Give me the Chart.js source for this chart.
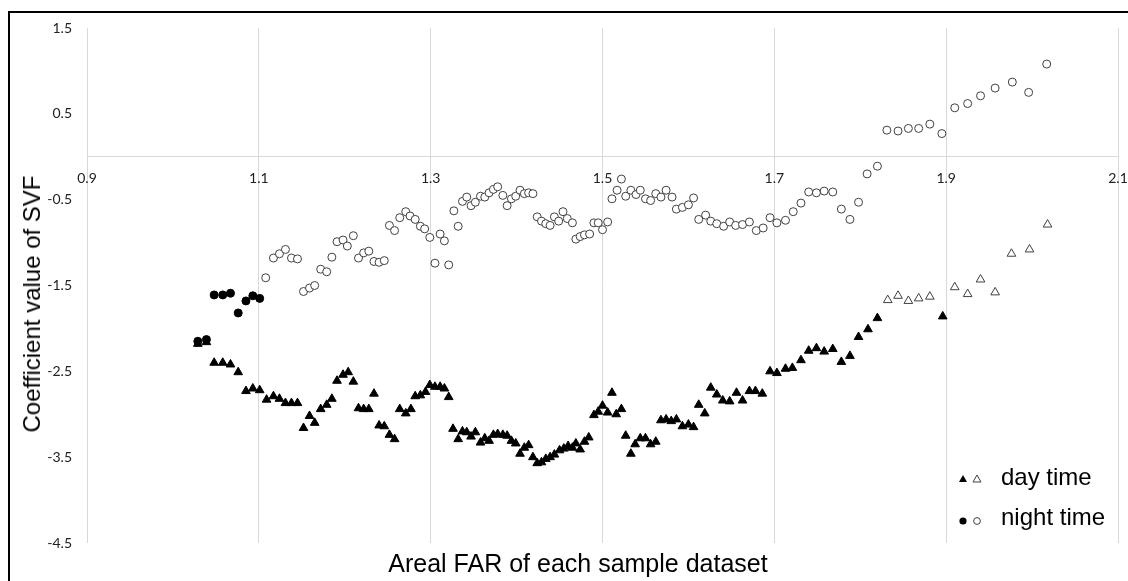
<!DOCTYPE html>
<html>
<head>
<meta charset="utf-8">
<script src="https://cdn.jsdelivr.net/npm/chart.js@4.4.1/dist/chart.umd.min.js"></script>
<style>
  html, body { margin: 0; padding: 0; background: #fff; }
  #wrap { position: relative; width: 1128px; height: 581px; overflow: hidden; }
  #frame { position: absolute; left: 8px; top: 11px; width: 1200px; height: 700px; border: 2px solid #000; box-sizing: border-box; }
  #chart { position: absolute; left: 0; top: 0; }
  .title { position: absolute; font-family: "Liberation Sans", Arial, sans-serif; font-size: 24px; color: #000; white-space: nowrap; }
  #yTitle { left: 32px; top: 304px; transform: translate(-50%, -50%) rotate(-90deg); }
  #xTitle { left: 578px; top: 563px; transform: translate(-50%, -50%); font-size: 25px; }
  .legend-row { position: absolute; left: 955px; height: 30px; }
  .legend-row svg { position: absolute; left: 0; top: 8px; }
  .legend-row span { position: absolute; left: 46px; top: 0; font-family: "Liberation Sans", Arial, sans-serif; font-size: 24px; line-height: 30px; white-space: nowrap; }
</style>
</head>
<body>
<div id="wrap">
  <div id="frame"></div>
  <canvas id="chart" width="1128" height="581"></canvas>
  <div class="title" id="yTitle">Coefficient value of SVF</div>
  <div class="title" id="xTitle">Areal FAR of each sample dataset</div>
  <div class="legend-row" style="top:462px">
    <svg width="30" height="16"><polygon points="8,5 12,12 4,12" fill="#000"/><polygon points="22,5 26,12 18,12" fill="#fff" stroke="#404040" stroke-width="1"/></svg>
    <span>day time</span>
  </div>
  <div class="legend-row" style="top:502px">
    <svg width="30" height="16"><circle cx="8" cy="11" r="3.6" fill="#000"/><circle cx="22" cy="11" r="3.4" fill="#fff" stroke="#404040" stroke-width="1"/></svg>
    <span>night time</span>
  </div>
</div>
<script>
// axis ticks
const xTicks = [0.9, 1.1, 1.3, 1.5, 1.7, 1.9, 2.1]
const yTicks = [-4.5, -3.5, -2.5, -1.5, -0.5, 0.5, 1.5]

// day time, filled triangles
const dayFilledX = [1.029, 1.039, 1.048, 1.058, 1.067, 1.076, 1.085, 1.093, 1.101, 1.109, 1.117, 1.124, 1.131, 1.138, 1.145,
  1.152, 1.159, 1.165, 1.172, 1.179, 1.185, 1.191, 1.198, 1.204, 1.210, 1.216, 1.222, 1.228, 1.234, 1.240, 1.246, 1.252, 1.258,
  1.264, 1.271, 1.277, 1.282, 1.288, 1.294, 1.299, 1.305, 1.311, 1.316, 1.321, 1.326, 1.332, 1.337, 1.342, 1.347, 1.352, 1.358,
  1.363, 1.368, 1.373, 1.378, 1.384, 1.389, 1.394, 1.399, 1.404, 1.409, 1.414, 1.419, 1.424, 1.429, 1.434, 1.439, 1.444, 1.450,
  1.455, 1.460, 1.465, 1.469, 1.474, 1.479, 1.484, 1.490, 1.495, 1.500, 1.506, 1.511, 1.516, 1.522, 1.527, 1.533, 1.538, 1.544,
  1.550, 1.556, 1.562, 1.568, 1.574, 1.580, 1.586, 1.593, 1.600, 1.606, 1.612, 1.619, 1.626, 1.633, 1.640, 1.648, 1.656, 1.663,
  1.671, 1.678, 1.686, 1.695, 1.703, 1.713, 1.721, 1.731, 1.740, 1.749, 1.758, 1.768, 1.778, 1.788, 1.798, 1.809, 1.820, 1.896]
const dayFilledY = [-2.18, -2.16, -2.40, -2.40, -2.42, -2.51, -2.73, -2.70, -2.72, -2.83, -2.79, -2.82, -2.87, -2.87, -2.87,
  -3.16, -3.02, -3.10, -2.94, -2.89, -2.82, -2.61, -2.54, -2.51, -2.62, -2.93, -2.94, -2.94, -2.76, -3.13, -3.14, -3.24, -3.29,
  -2.94, -2.99, -2.94, -2.79, -2.78, -2.74, -2.66, -2.68, -2.68, -2.70, -2.80, -3.17, -3.29, -3.20, -3.21, -3.26, -3.21, -3.33,
  -3.28, -3.31, -3.24, -3.23, -3.24, -3.25, -3.31, -3.34, -3.46, -3.39, -3.36, -3.50, -3.57, -3.56, -3.52, -3.50, -3.47, -3.42,
  -3.40, -3.37, -3.39, -3.34, -3.41, -3.32, -3.27, -3.01, -2.97, -2.90, -2.98, -2.75, -3.00, -2.94, -3.25, -3.46, -3.35, -3.28,
  -3.28, -3.35, -3.32, -3.07, -3.06, -3.08, -3.06, -3.14, -3.12, -3.15, -2.89, -2.99, -2.69, -2.77, -2.84, -2.85, -2.75, -2.84,
  -2.73, -2.73, -2.76, -2.50, -2.52, -2.47, -2.46, -2.37, -2.26, -2.23, -2.27, -2.24, -2.39, -2.32, -2.10, -2.01, -1.88, -1.86]

// day time, open triangles
const dayOpenX = [1.832, 1.844, 1.856, 1.868, 1.881, 1.910, 1.925, 1.940, 1.957, 1.976, 1.997, 2.018]
const dayOpenY = [-1.67, -1.62, -1.68, -1.65, -1.63, -1.52, -1.60, -1.43, -1.58, -1.13, -1.08, -0.79]

// night time, filled circles
const nightFilledX = [1.029, 1.039, 1.048, 1.058, 1.067, 1.076, 1.085, 1.093, 1.101]
const nightFilledY = [-2.15, -2.13, -1.61, -1.61, -1.59, -1.82, -1.68, -1.62, -1.65]

// night time, open circles
const nightOpenX = [1.108, 1.117, 1.124, 1.131, 1.138, 1.145, 1.152, 1.159, 1.165, 1.172, 1.179, 1.185, 1.191, 1.198, 1.203,
  1.210, 1.216, 1.222, 1.228, 1.234, 1.240, 1.246, 1.252, 1.258, 1.264, 1.271, 1.276, 1.282, 1.288, 1.293, 1.299, 1.305, 1.311,
  1.316, 1.321, 1.327, 1.332, 1.337, 1.342, 1.347, 1.352, 1.358, 1.363, 1.368, 1.373, 1.378, 1.384, 1.389, 1.394, 1.399, 1.404,
  1.409, 1.414, 1.419, 1.424, 1.429, 1.434, 1.439, 1.444, 1.449, 1.454, 1.459, 1.465, 1.469, 1.474, 1.479, 1.485, 1.490, 1.495,
  1.500, 1.506, 1.511, 1.517, 1.522, 1.527, 1.533, 1.539, 1.544, 1.550, 1.556, 1.562, 1.568, 1.574, 1.581, 1.586, 1.593, 1.600,
  1.606, 1.612, 1.620, 1.626, 1.633, 1.641, 1.648, 1.655, 1.663, 1.671, 1.679, 1.687, 1.695, 1.703, 1.713, 1.722, 1.731, 1.740,
  1.749, 1.758, 1.768, 1.778, 1.788, 1.798, 1.808, 1.820, 1.831, 1.844, 1.856, 1.868, 1.881, 1.895, 1.910, 1.925, 1.940, 1.957,
  1.977, 1.996, 2.017]
const nightOpenY = [-1.41, -1.18, -1.13, -1.08, -1.18, -1.19, -1.57, -1.53, -1.50, -1.31, -1.34, -1.17, -0.99, -0.97, -1.04,
  -0.92, -1.18, -1.12, -1.10, -1.22, -1.23, -1.21, -0.80, -0.86, -0.71, -0.64, -0.69, -0.73, -0.81, -0.84, -0.94, -1.24, -0.90,
  -0.98, -1.26, -0.63, -0.81, -0.52, -0.47, -0.57, -0.53, -0.46, -0.47, -0.42, -0.38, -0.35, -0.45, -0.57, -0.49, -0.46, -0.39,
  -0.43, -0.42, -0.43, -0.70, -0.75, -0.78, -0.80, -0.70, -0.75, -0.64, -0.72, -0.77, -0.96, -0.93, -0.91, -0.90, -0.77, -0.77,
  -0.85, -0.76, -0.49, -0.39, -0.26, -0.46, -0.39, -0.44, -0.39, -0.49, -0.51, -0.43, -0.47, -0.39, -0.47, -0.61, -0.59, -0.56,
  -0.48, -0.73, -0.68, -0.75, -0.78, -0.81, -0.76, -0.80, -0.79, -0.76, -0.86, -0.83, -0.71, -0.77, -0.74, -0.64, -0.54, -0.41,
  -0.42, -0.40, -0.41, -0.61, -0.73, -0.53, -0.20, -0.11, 0.31, 0.30, 0.33, 0.33, 0.38, 0.27, 0.57, 0.62, 0.71, 0.80,
  0.87, 0.75, 1.08]

const pts = (xs, ys) => xs.map((x, i) => ({ x: x, y: ys[i] }))

new Chart(document.getElementById("chart"), {
  type: "scatter",
  data: {
    datasets: [
      { label: "night time", data: pts(nightFilledX, nightFilledY), pointStyle: "circle", pointRadius: 4,
        backgroundColor: "#000", borderColor: "#000", borderWidth: 1 },
      { label: "day time", data: pts(dayFilledX, dayFilledY), pointStyle: "triangle", pointRadius: 5,
        backgroundColor: "#000", borderColor: "#000", borderWidth: 1 },
      { label: "night time (open)", data: pts(nightOpenX, nightOpenY), pointStyle: "circle", pointRadius: 4,
        backgroundColor: "#fff", borderColor: "#404040", borderWidth: 1 },
      { label: "day time (open)", data: pts(dayOpenX, dayOpenY), pointStyle: "triangle", pointRadius: 5,
        backgroundColor: "#fff", borderColor: "#404040", borderWidth: 1 }
    ]
  },
  options: {
    responsive: false,
    animation: false,
    layout: { padding: { top: 28, right: 10, bottom: 38, left: 0 } },
    plugins: { legend: { display: false }, tooltip: { enabled: false } },
    scales: {
      x: {
        type: "linear", min: 0.9, max: 2.1, position: { y: 0 },
        afterBuildTicks: s => { s.ticks = xTicks.map(v => ({ value: v })) },
        // keep the end labels from shrinking the plot area
        afterFit: s => { s.paddingLeft = 0; s.paddingRight = 0 },
        grid: { color: "#d9d9d9", drawTicks: false },
        border: { color: "#d9d9d9" },
        ticks: { padding: 13, color: "#222", font: { family: "Lato", size: 14 }, callback: v => v.toFixed(1) }
      },
      y: {
        type: "linear", min: -4.5, max: 1.5,
        afterBuildTicks: s => { s.ticks = yTicks.map(v => ({ value: v })) },
        afterFit: s => { s.width = 87 },
        grid: { display: false, drawTicks: false },
        border: { display: false },
        ticks: { padding: 15, color: "#222", font: { family: "Lato", size: 14 }, callback: v => v.toFixed(1) }
      }
    }
  }
})
</script>
</body>
</html>
